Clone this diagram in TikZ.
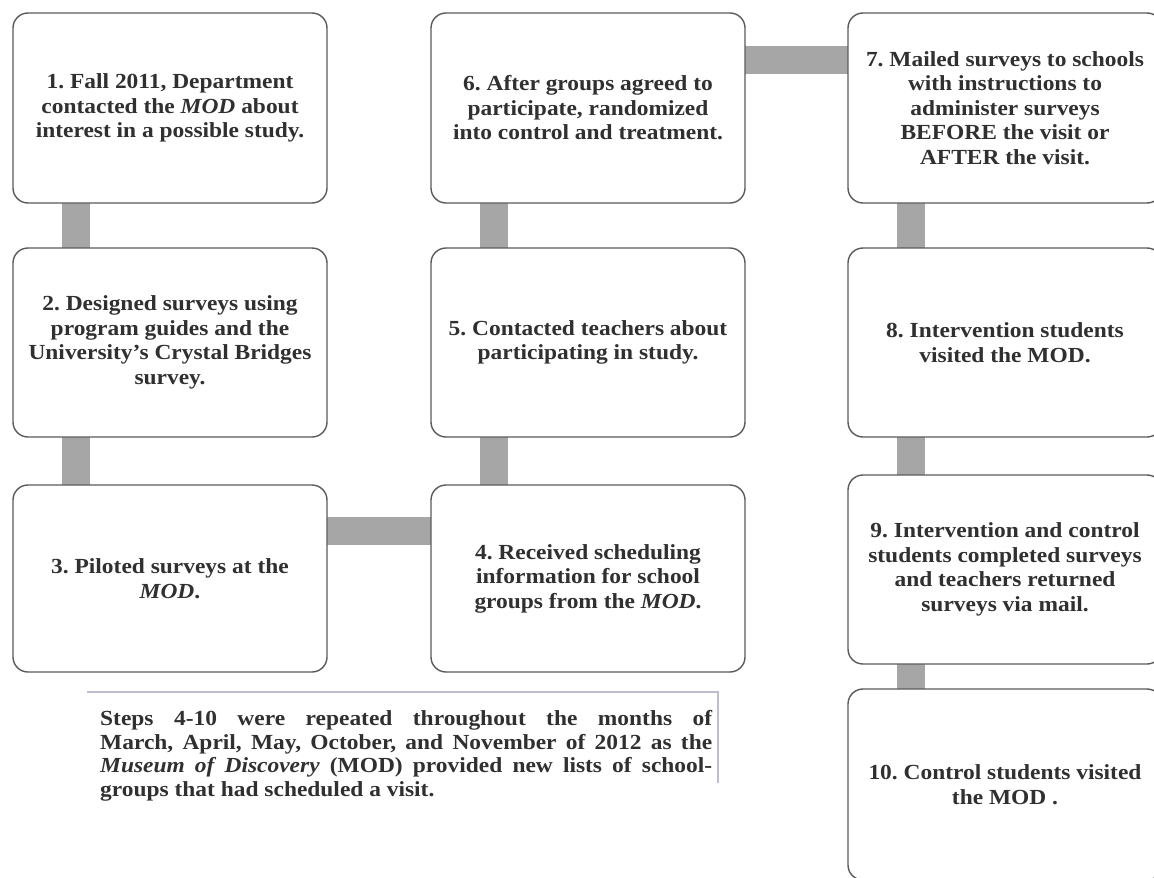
\documentclass[tikz,border=0pt]{standalone}
\usepackage{fontspec}
\setmainfont{Liberation Serif}[FakeStretch=1.09]
\usetikzlibrary{backgrounds}
\definecolor{barcol}{HTML}{A6A6A6}
\definecolor{edgecol}{HTML}{5A5A5A}
\definecolor{txtcol}{HTML}{303030}
\definecolor{shadecol}{HTML}{BDBDCE}
\frenchspacing
\begin{document}
\begin{tikzpicture}[x=1pt,y=-1pt,
  stepbox/.style={draw=edgecol, line width=1.4pt, rounded corners=15pt, fill=white,
    minimum width=314pt, inner sep=0pt, align=center, text=txtcol,
    font=\fontsize{21.5}{24.5}\selectfont\bfseries},
  bar/.style={draw=barcol, line width=28pt},
  shadeline/.style={draw=shadecol, line width=2pt},
]
\useasboundingbox (0,0) rectangle (1154,878);
\clip (0,0) rectangle (1154,878);
% column 1
\node[stepbox, minimum height=190pt] (b1) at (170,108) {1. Fall 2011, Department\\contacted the \textit{MOD} about\\interest in a possible study.};
\node[stepbox, minimum height=189pt] (b2) at (170,342.5) {2. Designed surveys using\\program guides and the\\University’s Crystal Bridges\\survey.};
\node[stepbox, minimum height=187pt] (b3) at (170,578.5) {3. Piloted surveys at the\\\textit{MOD}.};
% column 2
\node[stepbox, minimum height=190pt] (b6) at (588,108) {6. After groups agreed to\\participate, randomized\\into control and treatment.};
\node[stepbox, minimum height=189pt] (b5) at (588,342.5) {5. Contacted teachers about\\participating in study.};
\node[stepbox, minimum height=187pt] (b4) at (588,578.5) {4. Received scheduling\\information for school\\groups from the \textit{MOD}.};
% column 3
\node[stepbox, minimum height=190pt] (b7) at (1005,108) {7. Mailed surveys to schools\\with instructions to\\administer surveys\\BEFORE the visit or\\AFTER the visit.};
\node[stepbox, minimum height=189pt] (b8) at (1005,342.5) {8. Intervention students\\visited the MOD.};
\node[stepbox, minimum height=189pt] (b9) at (1005,569.5) {9. Intervention and control\\students completed surveys\\and teachers returned\\surveys via mail.};
\node[stepbox, minimum height=191pt] (b10) at (1005,784.5) {10. Control students visited\\the MOD .};
% note
\node[anchor=north west, inner sep=0pt, text=txtcol, align=left,
  font=\fontsize{21.5}{23.5}\selectfont\bfseries] (note) at (100,710.5)
  {\makebox[612pt][s]{Steps 4-10 were repeated throughout the months of}\\
   \makebox[612pt][s]{March, April, May, October, and November of 2012 as the}\\
   \makebox[612pt][s]{\textit{Museum of Discovery} (MOD) provided new lists of school-}\\
   groups that had scheduled a visit.};
\draw[shadeline] ([xshift=-13pt,yshift=18.5pt]note.north west) -- ([xshift=6pt,yshift=18.5pt]note.north east) -- ([xshift=6pt,yshift=18pt]note.south east);
% connectors
\begin{scope}[on background layer]
\draw[bar] ([xshift=-94pt,yshift=2pt]b1.south) -- ([xshift=-94pt,yshift=-2pt]b2.north);
\draw[bar] ([xshift=-94pt,yshift=2pt]b2.south) -- ([xshift=-94pt,yshift=-2pt]b3.north);
\draw[bar] ([xshift=-2pt,yshift=48pt]b3.east) -- ([xshift=2pt,yshift=48pt]b4.west);
\draw[bar] ([xshift=-94pt,yshift=-2pt]b4.north) -- ([xshift=-94pt,yshift=2pt]b5.south);
\draw[bar] ([xshift=-94pt,yshift=-2pt]b5.north) -- ([xshift=-94pt,yshift=2pt]b6.south);
\draw[bar] ([xshift=-2pt,yshift=48.5pt]b6.east) -- ([xshift=2pt,yshift=48.5pt]b7.west);
\draw[bar] ([xshift=-94pt,yshift=2pt]b7.south) -- ([xshift=-94pt,yshift=-2pt]b8.north);
\draw[bar] ([xshift=-94pt,yshift=2pt]b8.south) -- ([xshift=-94pt,yshift=-2pt]b9.north);
\draw[bar] ([xshift=-94pt,yshift=2pt]b9.south) -- ([xshift=-94pt,yshift=-2pt]b10.north);
\end{scope}
\end{tikzpicture}
\end{document}
